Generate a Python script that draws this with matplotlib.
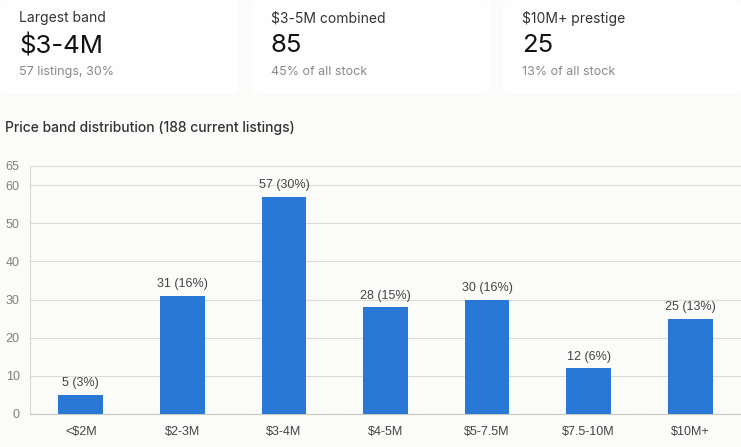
import matplotlib
matplotlib.use("Agg")
import matplotlib.pyplot as plt
from matplotlib.patches import FancyBboxPatch

categories = ["<$2M", "$2-3M", "$3-4M", "$4-5M", "$5-7.5M", "$7.5-10M", "$10M+"]
counts = [5, 31, 57, 28, 30, 12, 25]
shares = [3, 16, 30, 15, 16, 6, 13]
yticks = [0, 10, 20, 30, 40, 50, 60, 65]

card_titles = ["Largest band", "$3-5M combined", "$10M+ prestige"]
card_values = ["$3-4M", "85", "25"]
card_subs = ["57 listings, 30%", "45% of all stock", "13% of all stock"]

W, H = 741, 447
BG = "#fbfbf9"
CARD = "#fefefe"
BAR = "#2a78d6"
fig = plt.figure(figsize=(W / 100, H / 100), dpi=100, facecolor=BG)

def fx(px):
    return px / W

def fy(py):
    return 1 - py / H

# Cards
card_x = [0, 252, 503]
card_w = 238
for i, x0 in enumerate(card_x):
    fig.patches.append(FancyBboxPatch((fx(x0), fy(94)), fx(card_w), 94 / H,
                                      boxstyle="round,pad=0,rounding_size=0.008",
                                      transform=fig.transFigure, facecolor=CARD,
                                      edgecolor="none", zorder=0))
    tx = fx(x0 + 19)
    fig.text(tx, fy(18), card_titles[i], fontsize=10, family="Inter",
             color="#333333", va="center", ha="left")
    fig.text(tx, fy(46), card_values[i], fontsize=18.5, family="Inter",
             color="#111111", va="center", ha="left")
    fig.text(tx, fy(72), card_subs[i], fontsize=9, family="Inter",
             color="#8a8a8a", va="center", ha="left")

fig.text(fx(5), fy(128), "Price band distribution (188 current listings)",
         fontsize=10, family="Inter", fontweight="medium", color="#333333",
         va="center", ha="left")

# Chart axes
left_px, right_px, top_px, bot_px = 30, 741, 166, 414
ax = fig.add_axes([fx(left_px), fy(bot_px), fx(right_px - left_px), (bot_px - top_px) / H])
ax.set_facecolor(BG)
x = list(range(len(categories)))
ax.bar(x, counts, width=0.44, color=BAR, zorder=3)
ax.set_xlim(-0.5, len(categories) - 0.5)
ax.set_ylim(0, 65)
ax.set_yticks(yticks)
ax.set_yticklabels([str(t) for t in yticks])
ax.set_xticks(x)
ax.set_xticklabels(categories)
for lab in ax.get_xticklabels() + ax.get_yticklabels():
    lab.set_family("Liberation Sans")
    lab.set_fontsize(9)
for lab in ax.get_xticklabels():
    lab.set_color("#444444")
for lab in ax.get_yticklabels():
    lab.set_color("#808080")
ax.tick_params(axis="y", length=0, pad=7.5)
ax.tick_params(axis="x", length=0, pad=9)
ax.grid(axis="y", color="#dcdcd6", linewidth=0.8, zorder=0)
for s in ["top", "right"]:
    ax.spines[s].set_visible(False)
ax.spines["left"].set_color("#d8d8d2")
ax.spines["bottom"].set_color("#c8c8c2")
ax.spines["left"].set_linewidth(0.8)
ax.spines["bottom"].set_linewidth(0.8)

for xi, c, s in zip(x, counts, shares):
    ax.annotate(f"{c} ({s}%)", (xi, c), xytext=(0, 4), textcoords="offset points",
                ha="center", va="bottom", fontsize=9, family="Liberation Sans",
                color="#444444")

fig.savefig("out.png", dpi=100, facecolor=BG)
